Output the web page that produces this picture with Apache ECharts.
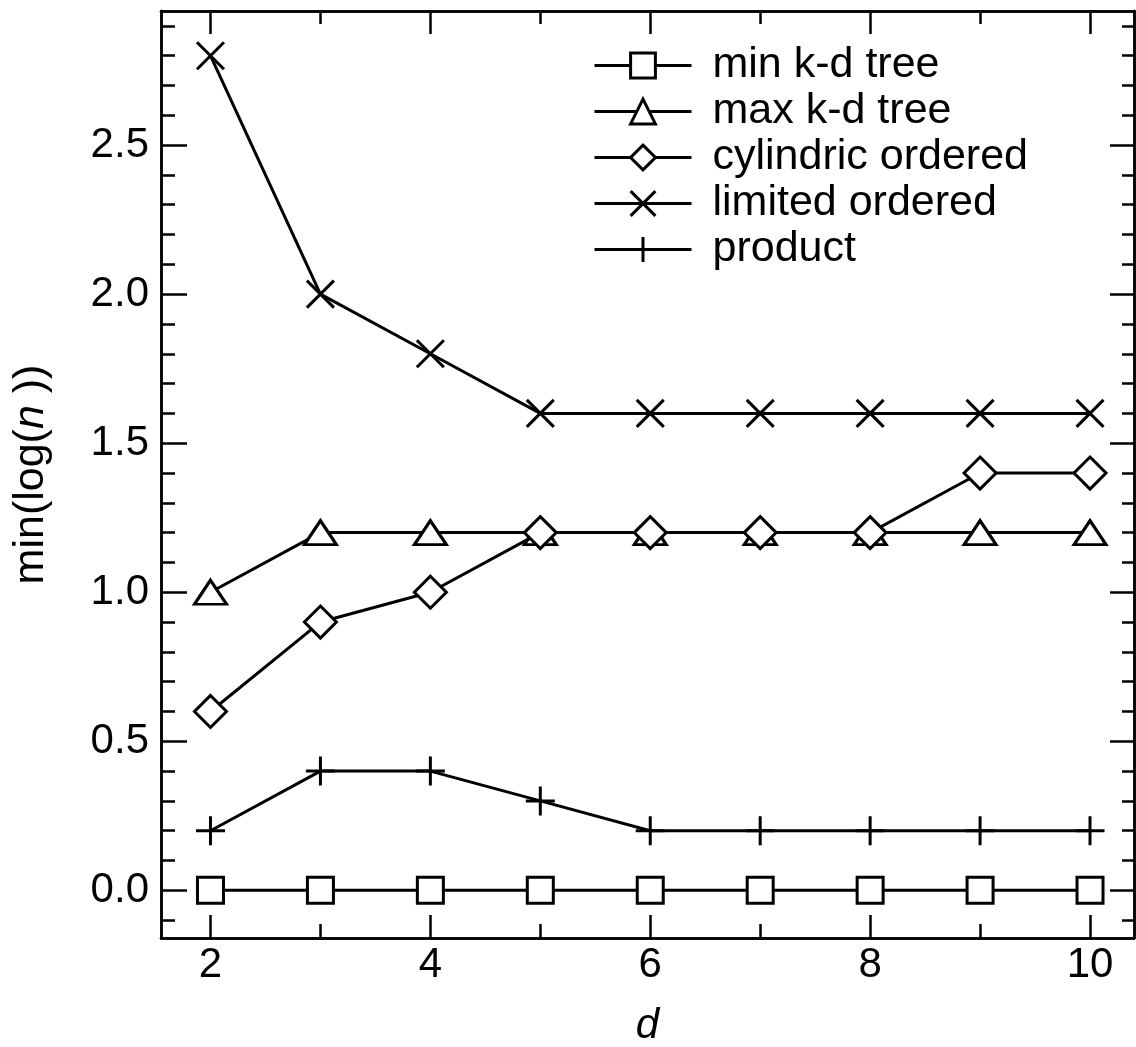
<!DOCTYPE html>
<html>
<head>
<meta charset="utf-8">
<script src="https://cdn.jsdelivr.net/npm/echarts@6/dist/echarts.min.js"></script>
<style>
  html, body { margin: 0; padding: 0; background: #fff; }
  #chart { width: 1136px; height: 1047px; }
</style>
</head>
<body>
<div id="chart"></div>
<script>
// data
const dims = [2, 3, 4, 5, 6, 7, 8, 9, 10];
const minKd      = [0, 0, 0, 0, 0, 0, 0, 0, 0];
const maxKd      = [1.0, 1.2, 1.2, 1.2, 1.2, 1.2, 1.2, 1.2, 1.2];
const cylindric  = [0.6, 0.9, 1.0, 1.2, 1.2, 1.2, 1.2, 1.4, 1.4];
const limited    = [2.8, 2.0, 1.8, 1.6, 1.6, 1.6, 1.6, 1.6, 1.6];
const product    = [0.2, 0.4, 0.4, 0.3, 0.2, 0.2, 0.2, 0.2, 0.2];

const xMajor = [2, 4, 6, 8, 10];
const xMinor = [3, 5, 7, 9];
const yMajor = [0, 0.5, 1.0, 1.5, 2.0, 2.5];
const yMinor = [-0.1, 0.1, 0.2, 0.3, 0.4, 0.6, 0.7, 0.8, 0.9, 1.1, 1.2, 1.3, 1.4,
                1.6, 1.7, 1.8, 1.9, 2.1, 2.2, 2.3, 2.4, 2.6, 2.7, 2.8, 2.9];

const FONT = '"Liberation Sans", Arial, Helvetica, sans-serif';
const INK = '#000';
const X_RANGE = [1.55, 10.4];
const Y_RANGE = [-0.16, 2.95];

const SYM_X = 'path://M0,0L10,10M10,0L0,10';
const SYM_PLUS = 'path://M5,0L5,10M0,5L10,5';

const pairs = (ys) => dims.map((d, i) => [d, ys[i]]);

function xAx(pos, ticks, len, labels) {
  return {
    type: 'value', position: pos, min: X_RANGE[0], max: X_RANGE[1],
    axisLine: { show: true, onZero: false, lineStyle: { color: INK, width: 2.5 } },
    axisTick: { show: true, inside: true, length: len, customValues: ticks,
                lineStyle: { color: INK, width: 2.5 } },
    axisLabel: labels
      ? { show: true, customValues: ticks, color: INK, fontFamily: FONT, fontSize: 42, margin: 6 }
      : { show: false },
    splitLine: { show: false },
  };
}

function yAx(pos, ticks, len, labels) {
  return {
    type: 'value', position: pos, min: Y_RANGE[0], max: Y_RANGE[1],
    axisLine: { show: true, onZero: false, lineStyle: { color: INK, width: 2.5 } },
    axisTick: { show: true, inside: true, length: len, customValues: ticks,
                lineStyle: { color: INK, width: 2.5 } },
    axisLabel: labels
      ? { show: true, customValues: ticks, color: INK, fontFamily: FONT, fontSize: 42, margin: 12,
          formatter: (v) => v.toFixed(1) }
      : { show: false },
    splitLine: { show: false },
  };
}

function ser(name, ys, symbol, size, z) {
  return {
    name, type: 'line', data: pairs(ys), symbol, symbolSize: size,
    showAllSymbol: true, z,
    lineStyle: { color: INK, width: 3 },
    itemStyle: { color: '#fff', borderColor: INK, borderWidth: 3 },
    emphasis: { disabled: true },
  };
}

const xBottom = xAx('bottom', xMajor, 23, true);
xBottom.name = 'd';
xBottom.nameLocation = 'middle';
xBottom.nameGap = 67;
xBottom.nameTextStyle = { color: INK, fontFamily: FONT, fontSize: 42, fontStyle: 'italic' };

const yLeft = yAx('left', yMajor, 26, true);
yLeft.name = '{a|min(log(}{b|n}{a| ))}';
yLeft.nameLocation = 'middle';
yLeft.nameRotate = 90;
yLeft.nameGap = 108;
yLeft.nameTextStyle = {
  rich: {
    a: { color: INK, fontFamily: FONT, fontSize: 43 },
    b: { color: INK, fontFamily: FONT, fontSize: 43, fontStyle: 'italic' },
  },
};

const option = {
  backgroundColor: '#fff',
  animation: false,
  grid: { left: 161, right: 2, top: 11, bottom: 109, containLabel: false,
          outerBoundsMode: 'none' },
  legend: {
    orient: 'vertical', left: 588, top: 39,
    itemWidth: 97, itemHeight: 31, itemGap: 3,
    lineStyle: { width: 3, color: INK },
    itemStyle: { color: '#fff', borderColor: INK, borderWidth: 3 },
    textStyle: { color: INK, fontFamily: FONT, fontSize: 43,
                 padding: [0, 0, 0, 16] },
    selectedMode: false,
  },
  xAxis: [
    xBottom,
    xAx('bottom', xMinor, 14, false),
    xAx('top', xMajor, 23, false),
    xAx('top', xMinor, 13, false),
  ],
  yAxis: [
    yLeft,
    yAx('left', yMinor, 14, false),
    yAx('right', yMajor, 24, false),
    yAx('right', yMinor, 12, false),
  ],
  series: [
    ser('min k-d tree', minKd, 'rect', 26, 3),
    ser('max k-d tree', maxKd, 'triangle', [32, 24], 3),
    ser('cylindric ordered', cylindric, 'diamond', 32, 4),
    ser('limited ordered', limited, SYM_X, 27, 3),
    ser('product', product, SYM_PLUS, 29, 3),
  ],
};

const chart = echarts.init(document.getElementById('chart'), null, { renderer: 'canvas' });
chart.setOption(option);
</script>
</body>
</html>
